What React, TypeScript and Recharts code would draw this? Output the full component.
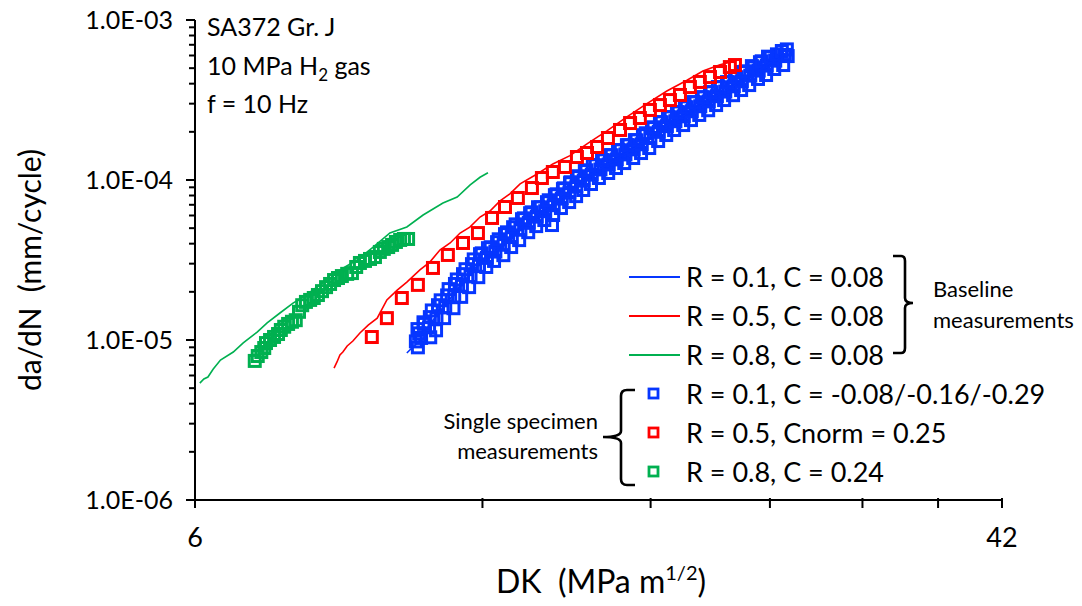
import { ScatterChart, Scatter, XAxis, YAxis } from "recharts"

type Pair = [number, number]

const BLUE = "#0636FF"
const RED = "#FF0000"
const GREEN = "#00B050"
const FONT = "Lato, 'Open Sans', sans-serif"

const xTicks = [6, 12, 18, 24, 30, 36, 42]
const xLabelTicks = [6, 42]
const yDecades = [1e-6, 1e-5, 1e-4, 1e-3]
const yMinorSteps = [2, 3, 4, 5, 6, 7, 8, 9]

const notes = ["SA372 Gr. J", "10 MPa H", "f = 10 Hz"]
const legendLines = ["R = 0.1, C = 0.08", "R = 0.5, C = 0.08", "R = 0.8, C = 0.08"]
const legendSquares = ["R = 0.1, C = -0.08/-0.16/-0.29", "R = 0.5, Cnorm = 0.25", "R = 0.8, C = 0.24"]

// baseline curves (dK, da/dN)
const blueLine: Pair[] = [
  [10.0, 8.29e-6], [10.12, 8.91e-6], [10.27, 9.58e-6], [10.42, 1.122e-5], [10.57, 1.24e-5],
  [10.78, 1.475e-5], [11.02, 1.7e-5], [11.23, 2.0e-5], [11.45, 2.3e-5], [11.7, 2.66e-5],
  [11.93, 3.07e-5], [12.16, 3.35e-5], [12.43, 3.65e-5], [12.67, 4.1e-5], [12.92, 4.53e-5],
  [13.2, 5.08e-5], [13.46, 5.54e-5], [13.72, 6.04e-5], [14.02, 6.49e-5], [14.29, 7.18e-5],
  [14.57, 7.83e-5], [14.82, 8.53e-5], [15.07, 9.31e-5], [15.36, 1.015e-4], [15.66, 1.106e-4],
  [16.01, 1.189e-4], [16.32, 1.277e-4], [16.64, 1.372e-4], [17.0, 1.475e-4], [17.33, 1.585e-4],
  [17.67, 1.703e-4], [18.06, 1.884e-4], [18.41, 2.054e-4], [18.77, 2.208e-4], [19.18, 2.371e-4],
  [19.55, 2.547e-4], [19.94, 2.74e-4], [20.37, 2.94e-4], [20.77, 3.16e-4], [21.17, 3.4e-4],
  [21.64, 3.65e-4], [22.06, 3.92e-4], [22.49, 4.22e-4], [22.98, 4.6e-4], [23.43, 4.87e-4],
  [23.89, 5.31e-4], [24.41, 5.62e-4], [25.0, 6.31e-4],
]

const redLine: Pair[] = [
  [8.39, 6.68e-6], [8.45, 7.29e-6], [8.51, 8.06e-6], [8.57, 8.41e-6], [8.66, 9.17e-6],
  [8.78, 9.86e-6], [8.93, 1.106e-5], [9.11, 1.24e-5], [9.31, 1.37e-5], [9.53, 1.78e-5],
  [9.77, 2.05e-5], [10.0, 2.3e-5], [10.32, 2.74e-5], [10.57, 3.07e-5], [10.83, 3.65e-5],
  [11.1, 4.04e-5], [11.37, 4.66e-5], [11.64, 5.08e-5], [11.93, 5.87e-5], [12.22, 6.4e-5],
  [12.52, 7.4e-5], [12.82, 8.2e-5], [13.14, 9.45e-5], [13.69, 1.09e-4], [14.22, 1.26e-4],
  [14.82, 1.42e-4], [15.44, 1.68e-4], [16.2, 2.03e-4], [17.0, 2.48e-4], [17.84, 3.0e-4],
  [18.72, 3.6e-4], [19.65, 4.2e-4], [20.42, 4.8e-4], [21.28, 5.25e-4], [21.95, 5.5e-4],
  [22.33, 5.7e-4],
]

const greenLine: Pair[] = [
  [6.07, 5.38e-6], [6.13, 5.71e-6], [6.19, 5.87e-6], [6.27, 6.59e-6], [6.38, 7.5e-6],
  [6.58, 8.41e-6], [6.74, 9.58e-6], [6.97, 1.12e-5], [7.14, 1.28e-5], [7.37, 1.48e-5],
  [7.6, 1.7e-5], [7.79, 1.86e-5], [8.05, 2.14e-5], [8.31, 2.44e-5], [8.58, 2.82e-5],
  [8.87, 3.16e-5], [9.22, 3.81e-5], [9.6, 4.67e-5], [10.0, 5.09e-5], [10.4, 6.04e-5],
  [10.91, 7.18e-5], [11.29, 7.83e-5], [11.65, 9.31e-5], [11.93, 1.04e-4], [12.16, 1.11e-4],
]

// single specimen measurements
const blueSquares: Pair[] = [
  [10.27, 9.0e-6], [10.22, 9.8e-6], [10.35, 1.03e-5], [10.3, 1.1e-5],
  [10.26, 1.17e-5], [10.58, 1.04e-5], [10.42, 1.26e-5], [10.55, 1.2e-5],
  [10.41, 1.29e-5], [10.73, 1.15e-5], [10.57, 1.39e-5], [10.74, 1.37e-5],
  [10.62, 1.53e-5], [10.94, 1.37e-5], [10.78, 1.65e-5], [10.97, 1.6e-5],
  [10.85, 1.77e-5], [11.19, 1.58e-5], [11.02, 1.9e-5], [11.21, 1.87e-5],
  [11.06, 2.08e-5], [11.4, 1.86e-5], [11.23, 2.24e-5], [11.42, 2.18e-5],
  [11.28, 2.39e-5], [11.62, 2.14e-5], [11.45, 2.58e-5], [11.66, 2.5e-5],
  [11.52, 2.77e-5], [11.88, 2.47e-5], [11.7, 2.98e-5], [11.9, 2.91e-5],
  [11.75, 3.19e-5], [12.11, 2.86e-5], [11.93, 3.44e-5], [12.13, 3.26e-5],
  [11.98, 3.48e-5], [12.34, 3.12e-5], [12.16, 3.75e-5], [12.38, 3.57e-5],
  [12.24, 3.8e-5], [12.62, 3.39e-5], [12.43, 4.09e-5], [12.63, 3.94e-5],
  [12.48, 4.26e-5], [12.86, 3.81e-5], [12.67, 4.59e-5], [12.88, 4.4e-5],
  [12.73, 4.71e-5], [13.11, 4.21e-5], [12.92, 5.07e-5], [13.15, 4.89e-5],
  [13.0, 5.28e-5], [13.4, 4.72e-5], [13.2, 5.69e-5], [13.42, 5.4e-5],
  [13.26, 5.76e-5], [13.66, 5.15e-5], [13.46, 6.2e-5], [13.68, 5.9e-5],
  [13.51, 6.28e-5], [13.93, 5.62e-5], [13.72, 6.76e-5], [14.19, 5.23e-5], [13.96, 6.38e-5],
  [13.81, 6.75e-5], [14.23, 6.04e-5], [14.02, 7.27e-5], [14.25, 6.96e-5],
  [14.08, 7.47e-5], [14.5, 6.68e-5], [14.29, 8.04e-5], [14.53, 7.65e-5],
  [14.35, 8.14e-5], [14.79, 7.28e-5], [14.57, 8.77e-5], [14.8, 8.34e-5],
  [14.6, 8.87e-5], [15.04, 7.93e-5], [14.82, 9.55e-5], [15.05, 9.09e-5],
  [14.84, 9.68e-5], [15.3, 8.66e-5], [15.07, 1.043e-4], [15.32, 9.91e-5],
  [15.13, 1.056e-4], [15.59, 9.44e-5], [15.36, 1.137e-4], [15.62, 1.08e-4],
  [15.42, 1.15e-4], [15.89, 1.029e-4], [15.66, 1.239e-4], [15.95, 1.164e-4],
  [15.77, 1.237e-4], [16.25, 1.106e-4], [16.01, 1.332e-4], [16.27, 1.25e-4],
  [16.08, 1.328e-4], [16.56, 1.188e-4], [16.32, 1.43e-4], [16.59, 1.345e-4],
  [16.39, 1.427e-4], [16.89, 1.276e-4], [16.64, 1.537e-4], [16.94, 1.445e-4],
  [16.75, 1.534e-4], [17.26, 1.372e-4], [17.0, 1.652e-4], [17.28, 1.555e-4],
  [17.07, 1.648e-4], [17.59, 1.474e-4], [17.33, 1.775e-4], [17.62, 1.672e-4],
  [17.4, 1.771e-4], [17.94, 1.584e-4], [17.67, 1.907e-4], [17.99, 1.83e-4],
  [17.79, 1.959e-4], [18.33, 1.752e-4], [18.06, 2.11e-4], [18.36, 2.0e-4],
  [18.13, 2.136e-4], [18.69, 1.91e-4], [18.41, 2.3e-4], [18.72, 2.17e-4],
  [18.49, 2.296e-4], [19.05, 2.053e-4], [18.77, 2.473e-4], [19.11, 2.33e-4],
  [18.89, 2.466e-4], [19.47, 2.205e-4], [19.18, 2.656e-4], [19.5, 2.5e-4],
  [19.26, 2.649e-4], [19.84, 2.369e-4], [19.55, 2.853e-4], [19.88, 2.69e-4],
  [19.64, 2.85e-4], [20.24, 2.55e-4], [19.94, 3.07e-4], [20.29, 2.89e-4],
  [20.06, 3.06e-4], [20.68, 2.73e-4], [20.37, 3.29e-4], [20.71, 3.1e-4],
  [20.46, 3.29e-4], [21.08, 2.94e-4], [20.77, 3.54e-4], [21.12, 3.34e-4],
  [20.85, 3.54e-4], [21.49, 3.16e-4], [21.17, 3.81e-4], [21.55, 3.57e-4],
  [21.32, 3.8e-4], [21.96, 3.39e-4], [21.64, 4.09e-4], [22.0, 3.85e-4],
  [21.73, 4.08e-4], [22.39, 3.65e-4], [22.06, 4.39e-4], [22.43, 4.14e-4],
  [22.15, 4.39e-4], [22.83, 3.92e-4], [22.49, 4.73e-4], [22.89, 4.49e-4],
  [22.64, 4.78e-4], [23.32, 4.28e-4], [22.98, 5.15e-4], [23.36, 4.83e-4],
  [23.08, 5.06e-4], [23.78, 4.53e-4], [23.43, 5.45e-4], [23.82, 5.19e-4],
  [23.53, 5.52e-4], [24.25, 4.94e-4], [23.89, 5.9e-4], [24.31, 5.57e-4],
  [24.04, 5.84e-4], [24.78, 5.23e-4], [24.41, 6.1e-4], [24.88, 6.05e-4],
  [24.7, 6.4e-4], [25.05, 5.95e-4], [25.0, 6.55e-4],
]

const redSquares: Pair[] = [
  [9.19, 1.044e-5], [9.53, 1.37e-5], [9.88, 1.83e-5], [10.27, 2.21e-5], [10.65, 2.82e-5],
  [11.04, 3.4e-5], [11.45, 4.04e-5], [11.87, 4.66e-5], [12.28, 5.79e-5], [12.67, 6.78e-5],
  [13.07, 7.72e-5], [13.52, 8.91e-5], [13.85, 1.029e-4], [14.22, 1.122e-4], [14.64, 1.206e-4],
  [15.07, 1.392e-4], [15.44, 1.475e-4], [15.82, 1.608e-4], [16.24, 1.83e-4], [16.72, 2.054e-4],
  [17.13, 2.27e-4], [17.54, 2.44e-4], [17.97, 2.74e-4], [18.41, 2.94e-4], [18.86, 3.16e-4],
  [19.32, 3.4e-4], [19.79, 3.81e-4], [20.27, 4.1e-4], [20.77, 4.4e-4], [21.28, 4.73e-4],
  [21.79, 5.08e-4], [22.06, 5.23e-4],
]

const greenSquares: Pair[] = [
  [6.93, 7.4e-6], [6.98, 7.94e-6], [7.04, 8.41e-6], [7.09, 8.91e-6], [7.12, 9.57e-6],
  [7.19, 1.0e-5], [7.26, 1.045e-5], [7.33, 1.09e-5], [7.38, 1.155e-5], [7.44, 1.21e-5],
  [7.51, 1.26e-5], [7.58, 1.3e-5], [7.65, 1.33e-5], [7.71, 1.5e-5], [7.77, 1.65e-5],
  [7.84, 1.73e-5], [7.92, 1.78e-5], [7.99, 1.83e-5], [8.07, 1.91e-5], [8.15, 2.02e-5],
  [8.23, 2.14e-5], [8.31, 2.24e-5], [8.39, 2.37e-5], [8.47, 2.44e-5], [8.55, 2.51e-5],
  [8.66, 2.59e-5], [8.76, 2.62e-5], [8.85, 2.86e-5], [8.93, 3.03e-5], [9.04, 3.12e-5],
  [9.15, 3.21e-5], [9.26, 3.3e-5], [9.37, 3.55e-5], [9.46, 3.71e-5], [9.56, 3.81e-5],
  [9.65, 3.93e-5], [9.74, 4.1e-5], [9.84, 4.22e-5], [9.93, 4.28e-5], [10.03, 4.28e-5],
]

const yTicks = yDecades.flatMap((d, i) =>
  i < yDecades.length - 1 ? [d, ...yMinorSteps.map((m) => +(m * d).toPrecision(3))] : [d]
)

const toPts = (arr: Pair[]) => arr.map(([k, v]) => ({ k, v }))

const fmtExp = (v: number) => {
  const e = Math.round(Math.log10(v))
  return `1.0E${e < 0 ? "-" : "+"}${String(Math.abs(e)).padStart(2, "0")}`
}

function YTick({ x, y, payload }: any) {
  const major = yDecades.includes(payload.value)
  return (
    <g>
      <line x1={x - (major ? 9 : 6)} x2={x} y1={y} y2={y} stroke="#000" strokeWidth={2} />
      {major && (
        <text x={x - 22} y={y} dy={9} textAnchor="end" fontSize={25} fontFamily={FONT} fill="#000">
          {fmtExp(payload.value)}
        </text>
      )}
    </g>
  )
}

function XTick({ x, y, payload }: any) {
  return (
    <g>
      <line x1={x} x2={x} y1={y - 2} y2={y + 8} stroke="#000" strokeWidth={2} />
      {xLabelTicks.includes(payload.value) && (
        <text x={x} y={y + 47} textAnchor="middle" fontSize={27} fontFamily={FONT} fill="#000">
          {payload.value}
        </text>
      )}
    </g>
  )
}

const squareShape = (color: string, size = 11) => (p: any) => (
  <rect
    x={p.cx - size / 2}
    y={p.cy - size / 2}
    width={size}
    height={size}
    fill="none"
    stroke={color}
    strokeWidth={3}
  />
)

const noDot = () => <g />

export default function App() {
  const lineColors = [BLUE, RED, GREEN]
  return (
    <div style={{ position: "fixed", left: 0, top: 0, width: 1082, height: 606, background: "#fff" }}>
      <ScatterChart width={1082} height={606} margin={{ top: 20, right: 80, bottom: 46, left: 0 }}>
        <XAxis
          type="number"
          dataKey="k"
          scale="log"
          domain={[6, 42]}
          ticks={xTicks}
          interval={0}
          allowDataOverflow
          tick={(p: any) => <XTick {...p} />}
          tickLine={false}
          tickSize={0}
          tickMargin={0}
          axisLine={{ stroke: "#000", strokeWidth: 2 }}
          height={60}
        />
        <YAxis
          type="number"
          dataKey="v"
          scale="log"
          domain={[1e-6, 1e-3]}
          ticks={yTicks}
          interval={0}
          allowDataOverflow
          tick={(p: any) => <YTick {...p} />}
          tickLine={false}
          tickSize={0}
          tickMargin={0}
          axisLine={{ stroke: "#000", strokeWidth: 2 }}
          width={195}
        />
        <Scatter data={toPts(blueSquares)} shape={squareShape(BLUE)} isAnimationActive={false} />
        <Scatter data={toPts(redSquares)} shape={squareShape(RED)} isAnimationActive={false} />
        <Scatter data={toPts(greenSquares)} shape={squareShape(GREEN)} isAnimationActive={false} />
        <Scatter data={toPts(blueLine)} line={{ stroke: BLUE, strokeWidth: 1.6 }} shape={noDot} isAnimationActive={false} />
        <Scatter data={toPts(redLine)} line={{ stroke: RED, strokeWidth: 1.6 }} shape={noDot} isAnimationActive={false} />
        <Scatter data={toPts(greenLine)} line={{ stroke: GREEN, strokeWidth: 1.6 }} shape={noDot} isAnimationActive={false} />
      </ScatterChart>

      <svg
        width={1082}
        height={606}
        style={{ position: "absolute", left: 0, top: 0, pointerEvents: "none" }}
        fontFamily={FONT}
      >
        {/* axis titles */}
        <text
          transform="translate(41 270) rotate(-90)"
          textAnchor="middle"
          fontSize={30}
          fill="#000"
        >
          da/dN{"\u00A0\u00A0"}(mm/cycle)
        </text>
        <text x={601} y={593} textAnchor="middle" fontSize={32} fill="#000">
          DK{"\u00A0\u00A0"}(MPa m<tspan fontSize={20} dy={-13}>1/2</tspan>
          <tspan dy={13}>)</tspan>
        </text>

        {/* notes */}
        <text x={207} y={36} fontSize={25} fill="#000">{notes[0]}</text>
        <text x={207} y={75} fontSize={25} fill="#000">
          {notes[1]}
          <tspan fontSize={17} dy={6}>2</tspan>
          <tspan dy={-6}> gas</tspan>
        </text>
        <text x={207} y={113} fontSize={25} fill="#000">{notes[2]}</text>

        {/* legend: lines */}
        {legendLines.map((t, i) => (
          <g key={t}>
            <line x1={629} x2={680} y1={277 + i * 39} y2={277 + i * 39} stroke={lineColors[i]} strokeWidth={2} />
            <text x={686} y={277 + i * 39 + 10} fontSize={27} fill="#000">{t}</text>
          </g>
        ))}
        {/* legend: squares */}
        {legendSquares.map((t, i) => (
          <g key={t}>
            <rect x={649} y={389 + i * 39} width={9} height={9} fill="none" stroke={lineColors[i]} strokeWidth={2.8} />
            <text x={686} y={394 + i * 39 + 10} fontSize={27} fill="#000">{t}</text>
          </g>
        ))}

        {/* braces */}
        <path
          d="M893 256 L901 256 Q905 256 905 261 L905 298 Q905 303 913 303 Q905 303 905 308 L905 348 Q905 353 901 353 L893 353"
          fill="none"
          stroke="#000"
          strokeWidth={2.6}
        />
        <text x={933} y={297} fontSize={22} fill="#000">Baseline</text>
        <text x={933} y={328} fontSize={22} fill="#000">measurements</text>

        <path
          d="M635 390 L627 390 Q621 390 621 396 L621 431 Q621 437 603 437 Q621 437 621 443 L621 479 Q621 485 627 485 L635 485"
          fill="none"
          stroke="#000"
          strokeWidth={2.6}
        />
        <text x={598} y={429} textAnchor="end" fontSize={22} fill="#000">Single specimen</text>
        <text x={598} y={459} textAnchor="end" fontSize={22} fill="#000">measurements</text>
      </svg>
    </div>
  )
}
